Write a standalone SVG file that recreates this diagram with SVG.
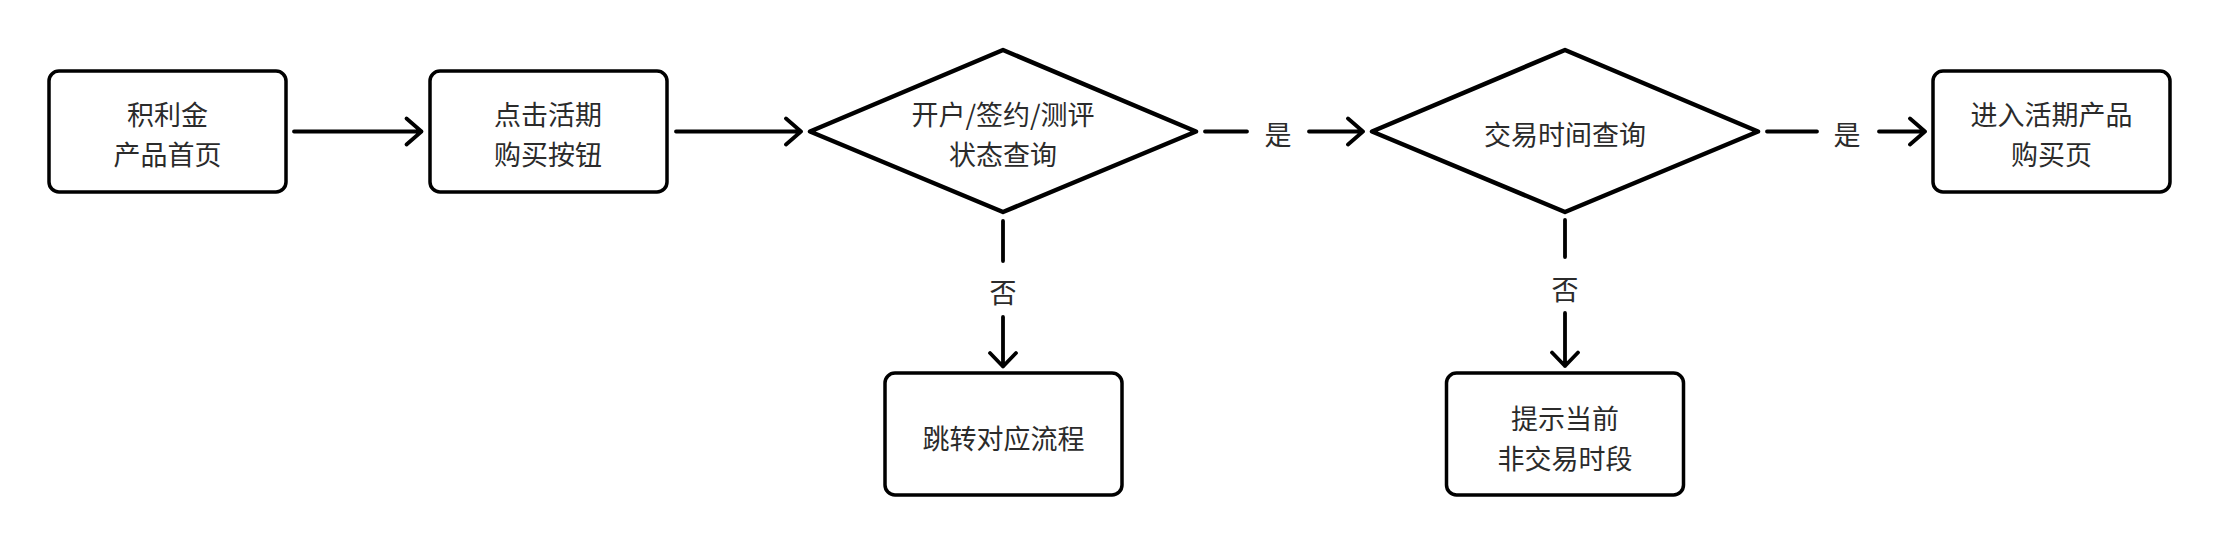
<svg xmlns="http://www.w3.org/2000/svg" width="2220" height="546" viewBox="0 0 2220 546">
<style>
.box{fill:#fff;stroke:#000;stroke-width:3.5}
.dia{fill:#fff;stroke:#000;stroke-width:4.5;stroke-linejoin:round}
.ln{fill:none;stroke:#000;stroke-width:3.8;stroke-linecap:round;stroke-linejoin:round}
text{font-family:"Noto Sans CJK SC","Noto Sans",sans-serif;font-size:27px;fill:#2b2b2b;text-anchor:middle;dominant-baseline:central}
</style>
<rect width="2220" height="546" fill="#fff"/>
<g id="connectors">
<path class="ln" d="M294,131.5 H421.5 M406.5,118.5 L421.5,131.5 L406.5,144.5"/>
<path class="ln" d="M676,131.5 H801 M786,118.5 L801,131.5 L786,144.5"/>
<path class="ln" d="M1205,131.5 H1247 M1309,131.5 H1363 M1348,118.5 L1363,131.5 L1348,144.5"/>
<text x="1278" y="133">是</text>
<path class="ln" d="M1767,131.5 H1817 M1879,131.5 H1925 M1910,118.5 L1925,131.5 L1910,144.5"/>
<text x="1847" y="133">是</text>
<path class="ln" d="M1003,221 V261 M1003,317 V366.5 M990,353 L1003,366.5 L1016,353"/>
<text x="1003" y="291">否</text>
<path class="ln" d="M1565,220 V257 M1565,313 V366 M1552,352.5 L1565,366 L1578,352.5"/>
<text x="1565" y="288">否</text>
</g>
<g id="n1">
<rect class="box" x="49" y="71" width="237" height="121" rx="10"/>
<text x="167.5" y="113.5">积利金</text>
<text x="167.5" y="153.5">产品首页</text>
</g>
<g id="n2">
<rect class="box" x="430" y="71" width="237" height="121" rx="10"/>
<text x="548" y="113.5">点击活期</text>
<text x="548" y="153.5">购买按钮</text>
</g>
<g id="n3">
<polygon class="dia" points="810,131.5 1003,50 1196,131.5 1003,212"/>
<text x="1003" y="113.5">开户/签约/测评</text>
<text x="1003" y="153.5">状态查询</text>
</g>
<g id="n4">
<polygon class="dia" points="1372,131.5 1565,50 1758,131.5 1565,212"/>
<text x="1565" y="133">交易时间查询</text>
</g>
<g id="n5">
<rect class="box" x="1933" y="71" width="237" height="121" rx="10"/>
<text x="2051.5" y="113.5">进入活期产品</text>
<text x="2051.5" y="153.5">购买页</text>
</g>
<g id="n6">
<rect class="box" x="885" y="373" width="237" height="122" rx="10"/>
<text x="1003.5" y="437">跳转对应流程</text>
</g>
<g id="n7">
<rect class="box" x="1446.5" y="373" width="237" height="122" rx="10"/>
<text x="1565" y="417">提示当前</text>
<text x="1565" y="457">非交易时段</text>
</g>
</svg>
